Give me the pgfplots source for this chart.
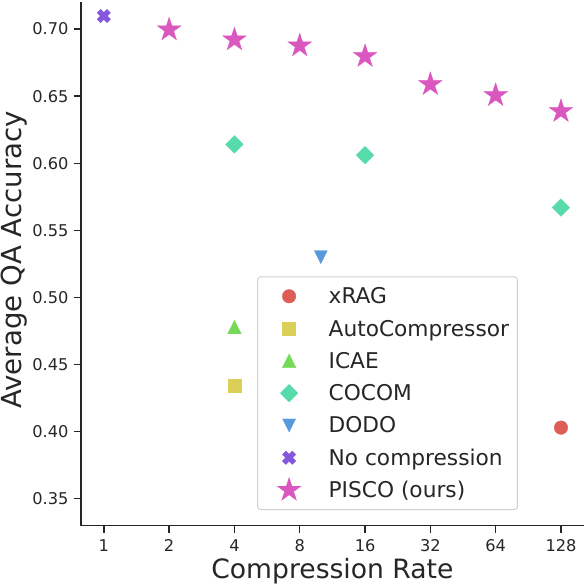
\documentclass[border=0pt]{standalone}
\usepackage{pgfplots}
\pgfplotsset{compat=1.18}
\usepackage{fontspec}
\setmainfont{DejaVu Sans}
\definecolor{txt}{HTML}{262626}
\definecolor{cxrag}{HTML}{DB5F57}
\definecolor{cauto}{HTML}{DBD057}
\definecolor{cicae}{HTML}{75DB57}
\definecolor{ccocom}{HTML}{57DBAA}
\definecolor{cdodo}{HTML}{579ADB}
\definecolor{cnone}{HTML}{8557DB}
\definecolor{cpisco}{HTML}{DB57C0}
\pgfdeclareplotmark{mtri}{%
  \pgfpathmoveto{\pgfqpoint{0pt}{\pgfplotmarksize}}%
  \pgfpathlineto{\pgfqpoint{-\pgfplotmarksize}{-\pgfplotmarksize}}%
  \pgfpathlineto{\pgfqpoint{\pgfplotmarksize}{-\pgfplotmarksize}}%
  \pgfpathclose\pgfusepathqfillstroke}
\pgfdeclareplotmark{mtridown}{%
  \pgfpathmoveto{\pgfqpoint{0pt}{-\pgfplotmarksize}}%
  \pgfpathlineto{\pgfqpoint{-\pgfplotmarksize}{\pgfplotmarksize}}%
  \pgfpathlineto{\pgfqpoint{\pgfplotmarksize}{\pgfplotmarksize}}%
  \pgfpathclose\pgfusepathqfillstroke}
\pgfdeclareplotmark{mdia}{%
  \pgfpathmoveto{\pgfqpoint{0pt}{\pgfplotmarksize}}%
  \pgfpathlineto{\pgfqpoint{\pgfplotmarksize}{0pt}}%
  \pgfpathlineto{\pgfqpoint{0pt}{-\pgfplotmarksize}}%
  \pgfpathlineto{\pgfqpoint{-\pgfplotmarksize}{0pt}}%
  \pgfpathclose\pgfusepathqfillstroke}
\pgfdeclareplotmark{mX}{%
  \pgftransformrotate{45}%
  \pgfpathmoveto{\pgfqpoint{0.35\pgfplotmarksize}{\pgfplotmarksize}}%
  \pgfpathlineto{\pgfqpoint{0.35\pgfplotmarksize}{0.35\pgfplotmarksize}}%
  \pgfpathlineto{\pgfqpoint{\pgfplotmarksize}{0.35\pgfplotmarksize}}%
  \pgfpathlineto{\pgfqpoint{\pgfplotmarksize}{-0.35\pgfplotmarksize}}%
  \pgfpathlineto{\pgfqpoint{0.35\pgfplotmarksize}{-0.35\pgfplotmarksize}}%
  \pgfpathlineto{\pgfqpoint{0.35\pgfplotmarksize}{-\pgfplotmarksize}}%
  \pgfpathlineto{\pgfqpoint{-0.35\pgfplotmarksize}{-\pgfplotmarksize}}%
  \pgfpathlineto{\pgfqpoint{-0.35\pgfplotmarksize}{-0.35\pgfplotmarksize}}%
  \pgfpathlineto{\pgfqpoint{-\pgfplotmarksize}{-0.35\pgfplotmarksize}}%
  \pgfpathlineto{\pgfqpoint{-\pgfplotmarksize}{0.35\pgfplotmarksize}}%
  \pgfpathlineto{\pgfqpoint{-0.35\pgfplotmarksize}{0.35\pgfplotmarksize}}%
  \pgfpathlineto{\pgfqpoint{-0.35\pgfplotmarksize}{\pgfplotmarksize}}%
  \pgfpathclose\pgfusepathqfillstroke}
\pgfdeclareplotmark{mstar}{%
  \pgfpathmoveto{\pgfqpoint{0pt}{\pgfplotmarksize}}%
  \pgfpathlineto{\pgfqpoint{-0.2245\pgfplotmarksize}{0.3090\pgfplotmarksize}}%
  \pgfpathlineto{\pgfqpoint{-0.9511\pgfplotmarksize}{0.3090\pgfplotmarksize}}%
  \pgfpathlineto{\pgfqpoint{-0.3633\pgfplotmarksize}{-0.1180\pgfplotmarksize}}%
  \pgfpathlineto{\pgfqpoint{-0.5878\pgfplotmarksize}{-0.8090\pgfplotmarksize}}%
  \pgfpathlineto{\pgfqpoint{0pt}{-0.382\pgfplotmarksize}}%
  \pgfpathlineto{\pgfqpoint{0.5878\pgfplotmarksize}{-0.8090\pgfplotmarksize}}%
  \pgfpathlineto{\pgfqpoint{0.3633\pgfplotmarksize}{-0.1180\pgfplotmarksize}}%
  \pgfpathlineto{\pgfqpoint{0.9511\pgfplotmarksize}{0.3090\pgfplotmarksize}}%
  \pgfpathlineto{\pgfqpoint{0.2245\pgfplotmarksize}{0.3090\pgfplotmarksize}}%
  \pgfpathclose\pgfusepathqfillstroke}
\begin{document}
\begin{tikzpicture}
\begin{axis}[
  scale only axis, width=502.8pt, height=523.4pt,
  xmode=log, log basis x=2,
  xmin=0.7846, xmax=163.14,
  ymin=0.33, ymax=0.72,
  clip=false,
  axis x line*=bottom, axis y line*=left,
  axis line style={line width=1.6pt, color=txt},
  tick align=outside, major tick length=7.3pt,
  tick style={line width=1.4pt, color=txt},
  xtick={1,2,4,8,16,32,64,128},
  xticklabels={1,2,4,8,16,32,64,128},
  ytick={0.35,0.40,0.45,0.50,0.55,0.60,0.65,0.70},
  yticklabels={0.35,0.40,0.45,0.50,0.55,0.60,0.65,0.70},
  /pgf/number format/assume math mode=true,
  xticklabel style={font=\fontsize{16.2}{19}\selectfont, text=txt, inner xsep=0pt, inner ysep=6.7pt},
  yticklabel style={font=\fontsize{16.2}{19}\selectfont, text=txt, inner ysep=0pt, inner xsep=5pt},
  xlabel={Compression Rate},
  ylabel={Average QA Accuracy},
  every axis x label/.style={at={(axis description cs:0.5,-0.1007)}, anchor=base, font=\fontsize{26.6}{30}\selectfont, text=txt, inner sep=0pt},
  every axis y label/.style={at={(axis description cs:-0.1193,0.5075)}, anchor=base, rotate=90, font=\fontsize{27.6}{31}\selectfont, text=txt, inner sep=0pt},
  legend cell align=left,
  legend image code/.code={\path (0pt,0pt) (62.2pt,0pt); \draw[#1] plot coordinates {(22.8pt,0pt)};},
  legend style={at={(axis description cs:0.8691,0.0298)}, anchor=south east,
    draw=black!18, line width=1pt, rounded corners=3pt, fill=white,
    inner xsep=8.5pt, inner ysep=3.3pt, row sep=0pt, column sep=0pt,
    font=\fontsize{21.7}{26}\selectfont, text=txt,
    nodes={inner sep=0pt, text height=23.6pt, text depth=8.7pt}},
]
\addplot[only marks, mark=*, mark size=6.8pt, color=cxrag, line width=0.3pt] coordinates {(128,0.403)};
\addlegendentry{xRAG}
\addplot[only marks, mark=square*, mark size=6.5pt, color=cauto, line width=0.3pt] coordinates {(4,0.4345)};
\addlegendentry{AutoCompressor}
\addplot[only marks, mark=mtri, mark size=6.8pt, color=cicae, line width=0.3pt] coordinates {(4,0.478)};
\addlegendentry{ICAE}
\addplot[only marks, mark=mdia, mark size=8.8pt, color=ccocom, line width=0.3pt] coordinates {(4,0.614) (16,0.606) (128,0.567)};
\addlegendentry{COCOM}
\addplot[only marks, mark=mtridown, mark size=6.5pt, color=cdodo, line width=0.3pt] coordinates {(10,0.530)};
\addlegendentry{DODO}
\addplot[only marks, mark=mX, mark size=7pt, color=cnone, line width=0.3pt] coordinates {(1,0.7097)};
\addlegendentry{No compression}
\addplot[only marks, mark=mstar, mark size=12.5pt, color=cpisco, line width=0.3pt] coordinates {(2,0.6995) (4,0.6921) (8,0.6876) (16,0.6797) (32,0.6588) (64,0.6506) (128,0.6387)};
\addlegendentry{PISCO (ours)}
\end{axis}
\pgfresetboundingbox
\path[use as bounding box] (-81pt,-58.4pt) rectangle (503pt,525.6pt);
\end{tikzpicture}
\end{document}
